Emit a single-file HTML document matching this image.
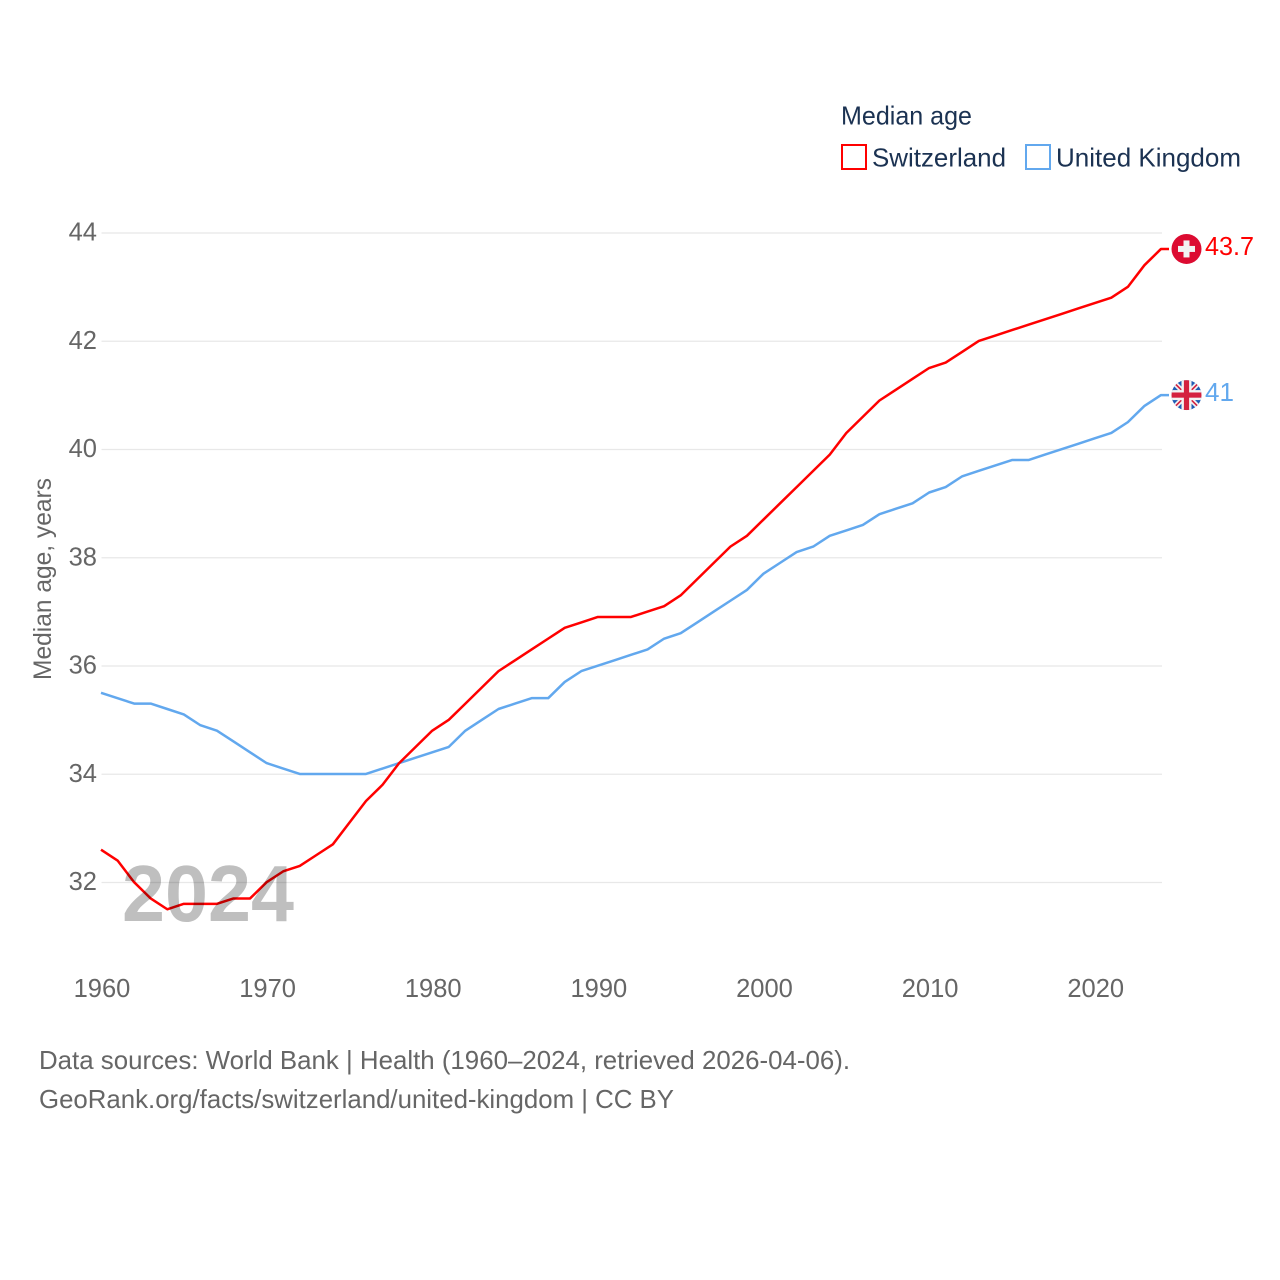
<!DOCTYPE html>
<html lang="en">
<head>
<meta charset="utf-8">
<title>Median age: Switzerland vs United Kingdom</title>
<style>
html,body{margin:0;padding:0;background:#fff;}
svg{display:block;font-family:"Liberation Sans",sans-serif;}
</style>
</head>
<body>
<svg id="chart" xmlns="http://www.w3.org/2000/svg" width="1280" height="1280" viewBox="0 0 1280 1280">
  <rect width="1280" height="1280" fill="#fff"/>
  <g id="grid"></g>
  <g id="yticks"></g>
  <g id="xticks"></g>
  <text transform="translate(51,680) rotate(-90)" font-size="25" fill="#666" textLength="202" lengthAdjust="spacingAndGlyphs">Median age, years</text>
  <g id="series"></g>
  <text x="122" y="921" font-size="80" font-weight="bold" fill="#000" fill-opacity="0.25" textLength="172" lengthAdjust="spacingAndGlyphs">2024</text>

  <g>
    <text x="841" y="124.5" font-size="26" fill="#1b3252" textLength="131" lengthAdjust="spacingAndGlyphs">Median age</text>
    <g>
      <rect x="842" y="145" width="24" height="24" fill="#fff" stroke="#ff0000" stroke-width="2"/>
      <text x="872" y="166.5" font-size="26" fill="#1b3252" textLength="134" lengthAdjust="spacingAndGlyphs">Switzerland</text>
    </g>
    <g>
      <rect x="1026" y="145" width="24" height="24" fill="#fff" stroke="#62a8ee" stroke-width="2"/>
      <text x="1056" y="166.5" font-size="26" fill="#1b3252" textLength="185" lengthAdjust="spacingAndGlyphs">United Kingdom</text>
    </g>
  </g>

  <defs>
    <clipPath id="uk-clip"><circle cx="0" cy="0" r="15"/></clipPath>
  </defs>
  <g id="flag-ch">
    <circle cx="0" cy="0" r="15" fill="#dc0b31"/>
    <rect x="-8.5" y="-3" width="17" height="6" fill="#f2f2f2"/>
    <rect x="-3" y="-8.5" width="6" height="17" fill="#f2f2f2"/>
  </g>
  <g id="flag-uk">
    <g clip-path="url(#uk-clip)">
      <rect x="-15" y="-15" width="30" height="30" fill="#1f5cb5"/>
      <path d="M-15,-15L15,15M15,-15L-15,15" stroke="#f2f2f2" stroke-width="5" fill="none"/>
      <path d="M-15,-15L15,15M15,-15L-15,15" stroke="#d4213f" stroke-width="1.6" fill="none"/>
      <rect x="-15" y="-5" width="30" height="10" fill="#f2f2f2"/>
      <rect x="-5" y="-15" width="10" height="30" fill="#f2f2f2"/>
      <rect x="-15" y="-2.6" width="30" height="5.2" fill="#d4213f"/>
      <rect x="-2.6" y="-15" width="5.2" height="30" fill="#d4213f"/>
    </g>
  </g>
  <text id="value-ch" x="1205" font-size="25.5" fill="#ff0000" textLength="49" lengthAdjust="spacingAndGlyphs"></text>
  <text id="value-uk" x="1205" font-size="25.5" fill="#62a8ee" textLength="29" lengthAdjust="spacingAndGlyphs"></text>

  <g>
    <text x="39" y="1069" font-size="26" fill="#666" textLength="811" lengthAdjust="spacingAndGlyphs">Data sources: World Bank | Health (1960–2024, retrieved 2026-04-06).</text>
    <text x="39" y="1108" font-size="26" fill="#666" textLength="635" lengthAdjust="spacingAndGlyphs">GeoRank.org/facts/switzerland/united-kingdom | CC BY</text>
  </g>
</svg>
<script>
const startYear = 1960;
const switzerland = [32.6,32.4,32.0,31.7,31.5,31.6,31.6,31.6,31.7,31.7,
  32.0,32.2,32.3,32.5,32.7,33.1,33.5,33.8,34.2,34.5,
  34.8,35.0,35.3,35.6,35.9,36.1,36.3,36.5,36.7,36.8,
  36.9,36.9,36.9,37.0,37.1,37.3,37.6,37.9,38.2,38.4,
  38.7,39.0,39.3,39.6,39.9,40.3,40.6,40.9,41.1,41.3,
  41.5,41.6,41.8,42.0,42.1,42.2,42.3,42.4,42.5,42.6,
  42.7,42.8,43.0,43.4,43.7];
const unitedKingdom = [35.5,35.4,35.3,35.3,35.2,35.1,34.9,34.8,34.6,34.4,
  34.2,34.1,34.0,34.0,34.0,34.0,34.0,34.1,34.2,34.3,
  34.4,34.5,34.8,35.0,35.2,35.3,35.4,35.4,35.7,35.9,
  36.0,36.1,36.2,36.3,36.5,36.6,36.8,37.0,37.2,37.4,
  37.7,37.9,38.1,38.2,38.4,38.5,38.6,38.8,38.9,39.0,
  39.2,39.3,39.5,39.6,39.7,39.8,39.8,39.9,40.0,40.1,
  40.2,40.3,40.5,40.8,41.0];
const yTicks = [32,34,36,38,40,42,44];
const xTicks = [1960,1970,1980,1990,2000,2010,2020];

const NS = 'http://www.w3.org/2000/svg';
function xScale(year){ return 101 + (year - 1960) * (1161 - 101) / 64; }
function yScale(v){ return 882.2 - (v - 32) * (882.2 - 232.7) / 12; }

const gridG = document.getElementById('grid');
const yG = document.getElementById('yticks');
const xG = document.getElementById('xticks');
const seriesG = document.getElementById('series');

yTicks.forEach(function(t){
  const line = document.createElementNS(NS,'line');
  
  
  line.setAttribute('x1', 101.5);
  line.setAttribute('x2', 1162);
  line.setAttribute('y1', yScale(t) + 0.3);
  line.setAttribute('y2', yScale(t) + 0.3);
  line.setAttribute('stroke', '#e8e8e8');
  line.setAttribute('stroke-width', '1.3');
  gridG.appendChild(line);
  const label = document.createElementNS(NS,'text');
  
  
  label.setAttribute('x', 97);
  label.setAttribute('y', yScale(t) + 8);
  label.setAttribute('text-anchor', 'end');
  label.setAttribute('font-size', '25.5');
  label.setAttribute('fill', '#666');
  label.textContent = t;
  yG.appendChild(label);
});

xTicks.forEach(function(t){
  const label = document.createElementNS(NS,'text');
  
  
  label.setAttribute('x', xScale(t) + 1);
  label.setAttribute('y', 997);
  label.setAttribute('text-anchor', 'middle');
  label.setAttribute('font-size', '25.5');
  label.setAttribute('fill', '#666');
  label.textContent = t;
  xG.appendChild(label);
});

function linePoints(values){
  const pts = values.map(function(v,i){
    return xScale(startYear + i).toFixed(2) + ',' + yScale(v).toFixed(2);
  });
  const lastYear = startYear + values.length - 1;
  pts.push((xScale(lastYear) + 8).toFixed(2) + ',' + yScale(values[values.length - 1]).toFixed(2));
  return pts.join(' ');
}

const ukLine = document.createElementNS(NS,'polyline');


ukLine.setAttribute('points', linePoints(unitedKingdom));
ukLine.setAttribute('fill', 'none');
ukLine.setAttribute('stroke', '#62a8ee');
ukLine.setAttribute('stroke-width', '2.5');
ukLine.setAttribute('stroke-linejoin', 'round');
seriesG.appendChild(ukLine);

const chLine = document.createElementNS(NS,'polyline');


chLine.setAttribute('points', linePoints(switzerland));
chLine.setAttribute('fill', 'none');
chLine.setAttribute('stroke', '#ff0000');
chLine.setAttribute('stroke-width', '2.5');
chLine.setAttribute('stroke-linejoin', 'round');
seriesG.appendChild(chLine);

const chLast = switzerland[switzerland.length - 1];
const ukLast = unitedKingdom[unitedKingdom.length - 1];
document.getElementById('flag-ch').setAttribute('transform', 'translate(1186.5,' + yScale(chLast).toFixed(2) + ')');
document.getElementById('flag-uk').setAttribute('transform', 'translate(1186.5,' + yScale(ukLast).toFixed(2) + ')');
const chVal = document.getElementById('value-ch');
chVal.setAttribute('y', yScale(chLast) + 6);
chVal.textContent = String(chLast);
const ukVal = document.getElementById('value-uk');
ukVal.setAttribute('y', yScale(ukLast) + 6);
ukVal.textContent = String(ukLast);
</script>
</body>
</html>
